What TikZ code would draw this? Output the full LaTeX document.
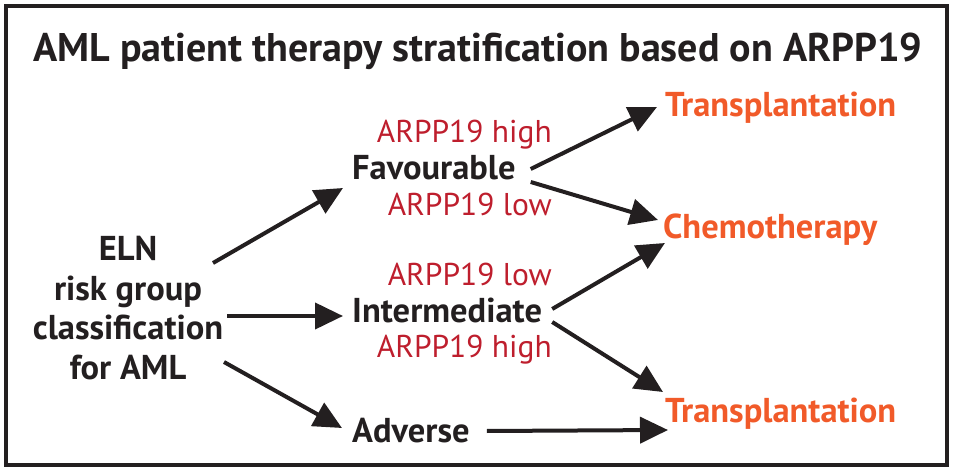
\documentclass[tikz,border=0pt]{standalone}
\usepackage{fontspec}
\setmainfont{PT Sans}
\usetikzlibrary{arrows.meta}
\definecolor{ink}{HTML}{231F20}
\definecolor{redtxt}{HTML}{BE1E2D}
\definecolor{orangetxt}{HTML}{F15A29}
\tikzset{
  conn/.style={draw=ink, line width=4pt, -{Triangle[length=28pt,width=26pt]}},
  grouptxt/.style={inner sep=0pt, text=ink, font=\fontsize{34.5}{39.5}\selectfont\bfseries},
  markertxt/.style={inner sep=0pt, text=redtxt, font=\fontsize{31.5}{36}\selectfont},
  outtxt/.style={inner sep=0pt, text=orangetxt, font=\fontsize{34.5}{38}\selectfont\bfseries},
  titletxt/.style={inner sep=0pt, text=ink, font=\fontsize{40}{48}\selectfont\bfseries}
}
\begin{document}
\begin{tikzpicture}[x=1pt, y=-1pt]
\useasboundingbox (0,0) rectangle (956,473);
\draw[ink, line width=4pt] (6,6) rectangle (947,464.5);
\node[titletxt, anchor=base] (title) at (478,62) {AML patient therapy stratification based on ARPP19};
\node[grouptxt, align=center, anchor=base] (eln) at (128,379) {ELN\\risk group\\classification\\for AML};
\node[grouptxt, anchor=base west] (fav) at (352,180) {Favourable};
\node[grouptxt, anchor=base west] (int) at (352,322) {Intermediate};
\node[grouptxt, anchor=base west] (adv) at (352,442) {Adverse};
\node[markertxt, anchor=base east] (favhigh) at (552,143) {ARPP19 high};
\node[markertxt, anchor=base east] (favlow) at (552,216) {ARPP19 low};
\node[markertxt, anchor=base east] (intlow) at (552,285) {ARPP19 low};
\node[markertxt, anchor=base east] (inthigh) at (552,357) {ARPP19 high};
\node[outtxt, anchor=base west] (tr1) at (665,117) {Transplantation};
\node[outtxt, anchor=base west] (chemo) at (663,239) {Chemotherapy};
\node[outtxt, anchor=base west] (tr2) at (665,422) {Transplantation};
\draw[conn] ([shift={(85,-116)}]eln.base) -- ([shift={(-9,8)}]fav.base west);
\draw[conn] ([shift={(99,-63)}]eln.base) -- ([shift={(-9,-6)}]int.base west);
\draw[conn] ([shift={(96,-17)}]eln.base) -- ([shift={(-10,-14)}]adv.base west);
\draw[conn] ([shift={(15,-11)}]fav.base east) -- ([shift={(-8,-10)}]tr1.base west);
\draw[conn] ([shift={(15,2)}]fav.base east) -- ([shift={(-5,-19)}]chemo.base west);
\draw[conn] ([shift={(10,-13)}]int.base east) -- ([shift={(2,4)}]chemo.base west);
\draw[conn] ([shift={(10,0)}]int.base east) -- ([shift={(-2,-30)}]tr2.base west);
\draw[conn] ([shift={(17,-11)}]adv.base east) -- ([shift={(3,8)}]tr2.base west);
\end{tikzpicture}
\end{document}
